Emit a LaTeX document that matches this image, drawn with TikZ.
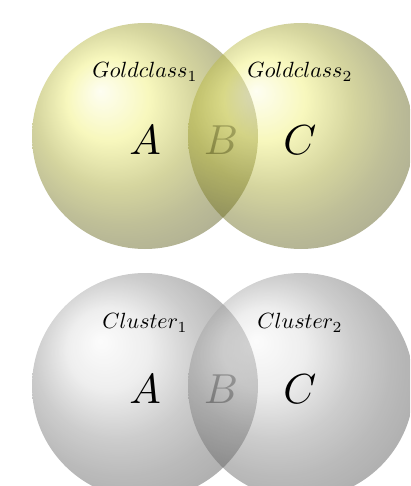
\documentclass[tikz,border=0pt]{standalone}
\usepackage{tikz}
\begin{document}
\begin{tikzpicture}[x=1pt,y=-1pt,
  goldball/.style={ball color={rgb,255:red,235;green,235;blue,70}, opacity=0.47},
  greyball/.style={ball color={rgb,255:red,205;green,205;blue,205}, opacity=0.45},
  setlabel/.style={scale=2.2, inner sep=0pt},
  regionlabel/.style={scale=4.2, inner sep=0pt},
  fadedlabel/.style={regionlabel, text opacity=0.5}]
\useasboundingbox (0,0) rectangle (410,486);
\begin{scope}
\clip (0,0) rectangle (410,486);
% top pair
\shade[goldball] (145,136) circle (113);
\node[setlabel] (g1) at (145,72) {$Goldclass_1$};
\node[regionlabel] (a1) at (145,140) {$A$};
\node[fadedlabel] (b1) at (221,140) {$B$};
\shade[goldball] (301,136) circle (113);
\node[setlabel] (g2) at (300,72) {$Goldclass_2$};
\node[regionlabel] (c1) at (300,140) {$C$};
% bottom pair
\shade[greyball] (145,386) circle (113);
\node[setlabel] (k1) at (145,323) {$Cluster_1$};
\node[regionlabel] (a2) at (145,389) {$A$};
\node[fadedlabel] (b2) at (221,389) {$B$};
\shade[greyball] (301,386) circle (113);
\node[setlabel] (k2) at (300,323) {$Cluster_2$};
\node[regionlabel] (c2) at (300,389) {$C$};
\end{scope}
\end{tikzpicture}
\end{document}
